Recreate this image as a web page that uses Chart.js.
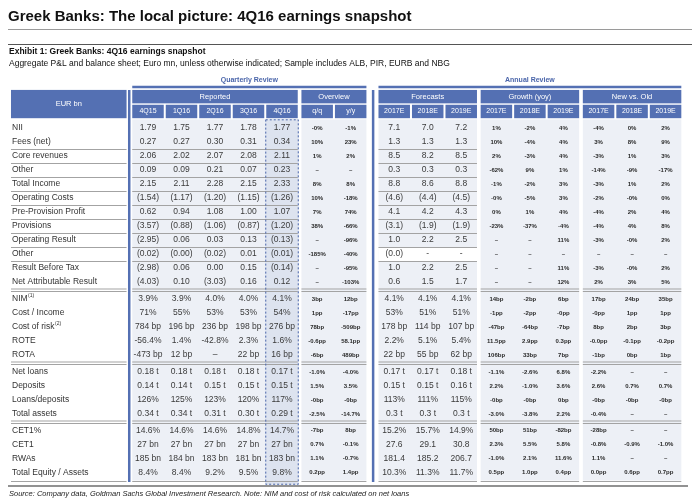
<!DOCTYPE html>
<html>
<head>
<meta charset="utf-8">
<script src="https://cdn.jsdelivr.net/npm/chart.js@4.4.1/dist/chart.umd.min.js"></script>
<style>
  html, body { margin: 0; padding: 0; background: #fff; }
  canvas { display: block; }
</style>
</head>
<body>
<canvas id="snapshot" width="700" height="501"></canvas>
<script>
// rows of the table
const rowLabels = ['NII', 'Fees (net)', 'Core revenues', 'Other', 'Total Income', 'Operating Costs',
    'Pre-Provision Profit', 'Provisions', 'Operating Result', 'Other', 'Result Before Tax',
    'Net Attributable Result', 'NIM', 'Cost / Income', 'Cost of risk', 'ROTE', 'ROTA',
    'Net loans', 'Deposits', 'Loans/deposits', 'Total assets', 'CET1%', 'CET1', 'RWAs',
    'Total Equity / Assets'];
const rowNotes = ['', '', '', '', '', '', '', '', '', '', '', '', '(1)', '', '(2)', '', '', '', '', '', '', '', '', '', ''];
const rowGroups = [0, 0, 0, 0, 0, 0, 0, 0, 0, 0, 0, 0, 1, 1, 1, 1, 1, 2, 2, 2, 2, 3, 3, 3, 3];
const boxedRows = [2, 4, 6, 8, 9];

// column headers
const quarterLabels = ['4Q15', '1Q16', '2Q16', '3Q16', '4Q16'];
const overviewLabels = ['q/q', 'y/y'];
const yearLabels = ['2017E', '2018E', '2019E'];

// reported quarters
const reported4Q15 = ['1.79', '0.27', '2.06', '0.09', '2.15', '(1.54)', '0.62', '(3.57)', '(2.95)', '(0.02)', '(2.98)', '(4.03)',
    '3.9%', '71%', '784 bp', '-56.4%', '-473 bp', '0.18 t', '0.14 t', '126%', '0.34 t', '14.6%', '27 bn', '185 bn', '8.4%'];
const reported1Q16 = ['1.75', '0.27', '2.02', '0.09', '2.11', '(1.17)', '0.94', '(0.88)', '0.06', '(0.00)', '0.06', '0.10',
    '3.9%', '55%', '196 bp', '1.4%', '12 bp', '0.18 t', '0.14 t', '125%', '0.34 t', '14.6%', '27 bn', '184 bn', '8.4%'];
const reported2Q16 = ['1.77', '0.30', '2.07', '0.21', '2.28', '(1.20)', '1.08', '(1.06)', '0.03', '(0.02)', '0.00', '(3.03)',
    '4.0%', '53%', '236 bp', '-42.8%', '\u2013', '0.18 t', '0.15 t', '123%', '0.31 t', '14.6%', '27 bn', '183 bn', '9.2%'];
const reported3Q16 = ['1.78', '0.31', '2.08', '0.07', '2.15', '(1.15)', '1.00', '(0.87)', '0.13', '0.01', '0.15', '0.16',
    '4.0%', '53%', '198 bp', '2.3%', '22 bp', '0.18 t', '0.15 t', '120%', '0.30 t', '14.8%', '27 bn', '181 bn', '9.5%'];
const reported4Q16 = ['1.77', '0.34', '2.11', '0.23', '2.33', '(1.26)', '1.07', '(1.20)', '(0.13)', '(0.01)', '(0.14)', '0.12',
    '4.1%', '54%', '276 bp', '1.6%', '16 bp', '0.17 t', '0.15 t', '117%', '0.29 t', '14.7%', '27 bn', '183 bn', '9.8%'];

// overview
const overviewQoQ = ['-0%', '10%', '1%', '\u2013', '8%', '10%', '7%', '38%', '\u2013', '-185%', '\u2013', '\u2013',
    '3bp', '1pp', '78bp', '-0.6pp', '-6bp', '-1.0%', '1.5%', '-0bp', '-2.5%', '-7bp', '0.7%', '1.1%', '0.2pp'];
const overviewYoY = ['-1%', '23%', '2%', '\u2013', '8%', '-18%', '74%', '-66%', '-96%', '-40%', '-95%', '-103%',
    '12bp', '-17pp', '-509bp', '58.1pp', '489bp', '-4.0%', '3.5%', '-0bp', '-14.7%', '8bp', '-0.1%', '-0.7%', '1.4pp'];

// forecasts
const forecast2017 = ['7.1', '1.3', '8.5', '0.3', '8.8', '(4.6)', '4.1', '(3.1)', '1.0', '(0.0)', '1.0', '0.6',
    '4.1%', '53%', '178 bp', '2.2%', '22 bp', '0.17 t', '0.15 t', '113%', '0.3 t', '15.2%', '27.6', '181.4', '10.3%'];
const forecast2018 = ['7.0', '1.3', '8.2', '0.3', '8.6', '(4.4)', '4.2', '(1.9)', '2.2', '-', '2.2', '1.5',
    '4.1%', '51%', '114 bp', '5.1%', '55 bp', '0.17 t', '0.15 t', '111%', '0.3 t', '15.7%', '29.1', '185.2', '11.3%'];
const forecast2019 = ['7.2', '1.3', '8.5', '0.3', '8.8', '(4.5)', '4.3', '(1.9)', '2.5', '-', '2.5', '1.7',
    '4.1%', '51%', '107 bp', '5.4%', '62 bp', '0.18 t', '0.16 t', '115%', '0.3 t', '14.9%', '30.8', '206.7', '11.7%'];

// growth (yoy)
const growth2017 = ['1%', '10%', '2%', '-62%', '-1%', '-0%', '0%', '-23%', '\u2013', '\u2013', '\u2013', '\u2013',
    '14bp', '-1pp', '-47bp', '11.5pp', '106bp', '-1.1%', '2.2%', '-0bp', '-3.0%', '50bp', '2.3%', '-1.0%', '0.5pp'];
const growth2018 = ['-2%', '-4%', '-3%', '9%', '-2%', '-5%', '1%', '-37%', '\u2013', '\u2013', '\u2013', '\u2013',
    '-2bp', '-2pp', '-64bp', '2.9pp', '33bp', '-2.6%', '-1.0%', '-0bp', '-3.8%', '51bp', '5.5%', '2.1%', '1.0pp'];
const growth2019 = ['4%', '4%', '4%', '1%', '3%', '3%', '4%', '-4%', '11%', '\u2013', '11%', '12%',
    '6bp', '-0pp', '-7bp', '0.3pp', '7bp', '6.8%', '3.6%', '0bp', '2.2%', '-82bp', '5.8%', '11.6%', '0.4pp'];

// new vs. old
const newOld2017 = ['-4%', '3%', '-3%', '-14%', '-3%', '-2%', '-4%', '-4%', '-3%', '\u2013', '-3%', '2%',
    '17bp', '-0pp', '8bp', '-0.0pp', '-1bp', '-2.2%', '2.6%', '-0bp', '-0.4%', '-28bp', '-0.8%', '1.1%', '0.0pp'];
const newOld2018 = ['0%', '8%', '1%', '-9%', '1%', '-0%', '2%', '4%', '-0%', '\u2013', '-0%', '3%',
    '24bp', '1pp', '2bp', '-0.1pp', '0bp', '\u2013', '0.7%', '-0bp', '\u2013', '\u2013', '-0.9%', '\u2013', '0.6pp'];
const newOld2019 = ['2%', '9%', '3%', '-17%', '2%', '0%', '4%', '8%', '2%', '\u2013', '2%', '5%',
    '35bp', '1pp', '3bp', '-0.2pp', '1bp', '\u2013', '0.7%', '-0bp', '\u2013', '\u2013', '-1.0%', '\u2013', '0.7pp'];

const blocks = [
    { title: 'Reported', heads: quarterLabels, values: [reported4Q15, reported1Q16, reported2Q16, reported3Q16, reported4Q16], small: false, lines: true },
    { title: 'Overview', heads: overviewLabels, values: [overviewQoQ, overviewYoY], small: true, lines: false },
    { title: 'Forecasts', heads: yearLabels, values: [forecast2017, forecast2018, forecast2019], small: false, lines: true },
    { title: 'Growth (yoy)', heads: yearLabels, values: [growth2017, growth2018, growth2019], small: true, lines: false },
    { title: 'New vs. Old', heads: yearLabels, values: [newOld2017, newOld2018, newOld2019], small: true, lines: false },
];
const reviews = [
    { title: 'Quarterly Review', from: 0, to: 1 },
    { title: 'Annual Review', from: 2, to: 4 },
];

// layout (in column / row units)
const blockShift = [0, 0.05, 0.35, 0.4, 0.45];
const groupGap = 0.21;
const labelLeft = -4.09, labelRight = -0.64, labelTextX = -4.06;
const halfCell = 0.47;

const BLUE = '#5470b3';
const FILL = '#edf0f6';
const GRID = '#a3a3a3';
const FONT = '"Liberation Sans", Arial, sans-serif';

const rowPos = rowLabels.map((_, i) => i + rowGroups[i] * groupGap);
const lastPos = rowPos[rowPos.length - 1];
const tableTop = -0.62;
const tableBottom = lastPos + 0.55;

let col = 0;
blocks.forEach((b, bi) => {
    b.x = b.heads.map((h, i) => col + i + blockShift[bi]);
    col += b.heads.length;
});

let datasets = [{
    label: 'rows',
    data: rowPos.map(y => ({ x: labelTextX, y: y })),
    texts: rowLabels,
    notes: rowNotes,
    kind: 'label',
}];
blocks.forEach(b => {
    b.values.forEach((vals, i) => {
        datasets.push({
            label: b.title + ' ' + b.heads[i],
            data: rowPos.map(y => ({ x: b.x[i], y: y })),
            texts: vals,
            kind: b.small ? 'small' : 'value',
        });
    });
});
datasets.forEach(ds => { ds.pointRadius = 0; ds.showLine = false; });

function hline(ctx, x0, x1, y, color, width) {
    ctx.beginPath();
    ctx.strokeStyle = color;
    ctx.lineWidth = width;
    ctx.moveTo(x0, y);
    ctx.lineTo(x1, y);
    ctx.stroke();
}

const tablePlugin = {
    id: 'tablePlugin',
    beforeDatasetsDraw(chart) {
        const ctx = chart.ctx;
        const X = v => chart.scales.x.getPixelForValue(v);
        const Y = v => chart.scales.y.getPixelForValue(v);
        ctx.save();

        // page texts
        ctx.fillStyle = '#111';
        ctx.textBaseline = 'alphabetic';
        ctx.textAlign = 'left';
        ctx.font = 'bold 15px ' + FONT;
        ctx.fillText('Greek Banks: The local picture: 4Q16 earnings snapshot', 8, 21);
        hline(ctx, 8, 692, 29.5, '#9a9a9a', 1);
        hline(ctx, 8, 692, 44.5, '#555', 1);
        ctx.font = 'bold 8.5px ' + FONT;
        ctx.fillText('Exhibit 1: Greek Banks: 4Q16 earnings snapshot', 9, 54);
        ctx.font = '8.5px ' + FONT;
        ctx.fillText('Aggregate P&L and balance sheet; Euro mn, unless otherwise indicated; Sample includes ALB, PIR, EURB and NBG', 9, 66);

        // label column header
        const yHeadTop = Y(-2.72), yHeadBot = Y(-0.7);
        ctx.fillStyle = BLUE;
        ctx.fillRect(X(labelLeft), yHeadTop, X(labelRight) - X(labelLeft), yHeadBot - yHeadTop);
        ctx.fillStyle = '#fff';
        ctx.textAlign = 'center';
        ctx.textBaseline = 'middle';
        ctx.font = '7.5px ' + FONT;
        ctx.fillText('EUR bn', (X(labelLeft) + X(labelRight)) / 2, (yHeadTop + yHeadBot) / 2);

        // blocks
        blocks.forEach((b, bi) => {
            const x0 = X(b.x[0] - halfCell), x1 = X(b.x[b.x.length - 1] + halfCell);
            ctx.fillStyle = FILL;
            ctx.fillRect(x0, Y(tableTop), x1 - x0, Y(tableBottom) - Y(tableTop));
            ctx.fillStyle = BLUE;
            ctx.fillRect(x0, yHeadTop, x1 - x0, Y(-1.76) - yHeadTop);
            b.x.forEach(cx => {
                ctx.fillRect(X(cx - halfCell), Y(-1.66), X(cx + halfCell) - X(cx - halfCell), yHeadBot - Y(-1.66));
            });
            ctx.fillStyle = '#fff';
            ctx.font = '7.5px ' + FONT;
            ctx.fillText(b.title, (x0 + x1) / 2, Y(-2.24));
            ctx.font = '7px ' + FONT;
            b.x.forEach((cx, i) => ctx.fillText(b.heads[i], X(cx), Y(-1.18)));
            if (bi === 2) {
                // the second "Other" row is left white in the forecasts
                ctx.fillStyle = '#fff';
                ctx.fillRect(x0, Y(rowPos[9] - 0.5), x1 - x0, Y(rowPos[9] + 0.5) - Y(rowPos[9] - 0.5));
            }
        });

        // reviews
        reviews.forEach(r => {
            const x0 = X(blocks[r.from].x[0] - halfCell);
            const last = blocks[r.to].x;
            const x1 = X(last[last.length - 1] + halfCell);
            hline(ctx, x0, x1, Y(-2.93), BLUE, 2.5);
            ctx.fillStyle = '#4a65aa';
            ctx.font = 'bold 7px ' + FONT;
            ctx.fillText(r.title, (x0 + x1) / 2, Y(-3.4));
        });

        // highlighted current quarter
        const cur = blocks[0].x[4];
        const hx0 = X(cur - 0.5), hx1 = X(cur + 0.5), hy0 = Y(tableTop), hy1 = Y(tableBottom + 0.3);
        ctx.fillStyle = '#dde3ef';
        ctx.fillRect(hx0, hy0, hx1 - hx0, hy1 - hy0);

        // horizontal rules per block
        let spans = [[X(labelLeft), X(labelRight), true]];
        blocks.forEach(b => spans.push([X(b.x[0] - halfCell), X(b.x[b.x.length - 1] + halfCell), b.lines]));
        let edges = new Set();
        boxedRows.forEach(r => { edges.add(rowPos[r] - 0.5); edges.add(rowPos[r] + 0.5); });
        spans.forEach(([x0, x1, lines]) => {
            if (lines) {
                edges.forEach(e => hline(ctx, x0, x1, Math.round(Y(e)) + 0.5, GRID, 1));
            }
            for (let i = 1; i < rowPos.length; i++) {
                if (rowGroups[i] !== rowGroups[i - 1]) {
                    const mid = Math.round(Y((rowPos[i] + rowPos[i - 1]) / 2));
                    hline(ctx, x0, x1, mid - 1, GRID, 1);
                    hline(ctx, x0, x1, mid + 1.5, GRID, 1);
                }
            }
            hline(ctx, x0, x1, Math.round(Y(tableBottom)) + 0.5, GRID, 1);
        });

        // dashed border of the current quarter
        ctx.setLineDash([2, 2]);
        ctx.strokeStyle = '#4a65aa';
        ctx.lineWidth = 1;
        ctx.strokeRect(hx0 + 0.5, hy0 + 0.5, hx1 - hx0 - 1, hy1 - hy0 - 1);
        ctx.setLineDash([]);

        // blue dividers
        [-0.56, 6.72].forEach(v => {
            ctx.beginPath();
            ctx.strokeStyle = BLUE;
            ctx.lineWidth = 2.5;
            ctx.moveTo(X(v), yHeadTop);
            ctx.lineTo(X(v), Y(tableBottom + 0.1));
            ctx.stroke();
        });

        // source
        hline(ctx, 8, 688, Math.round(Y(tableBottom + 0.3)) + 1, '#6e6e6e', 1.5);
        ctx.fillStyle = '#222';
        ctx.textAlign = 'left';
        ctx.textBaseline = 'alphabetic';
        ctx.font = 'italic 7.5px ' + FONT;
        ctx.fillText('Source: Company data, Goldman Sachs Global Investment Research. Note: NIM and cost of risk calculated on net loans', 9, 496);
        ctx.restore();
    },
    afterDatasetsDraw(chart) {
        const ctx = chart.ctx;
        ctx.save();
        ctx.textBaseline = 'middle';
        chart.data.datasets.forEach((ds, di) => {
            const meta = chart.getDatasetMeta(di);
            meta.data.forEach((pt, i) => {
                const text = ds.texts[i];
                if (ds.kind === 'label') {
                    ctx.textAlign = 'left';
                    ctx.fillStyle = '#333';
                    ctx.font = '8.5px ' + FONT;
                    ctx.fillText(text, pt.x, pt.y);
                    if (ds.notes[i]) {
                        const w = ctx.measureText(text).width;
                        ctx.font = '5px ' + FONT;
                        ctx.fillText(ds.notes[i], pt.x + w + 0.5, pt.y - 3);
                    }
                } else if (ds.kind === 'small') {
                    ctx.textAlign = 'center';
                    ctx.fillStyle = '#2a2a2a';
                    ctx.font = 'bold 6px ' + FONT;
                    ctx.fillText(text, pt.x, pt.y);
                } else {
                    ctx.textAlign = 'center';
                    ctx.fillStyle = '#3a3a3a';
                    ctx.font = '8.5px ' + FONT;
                    ctx.fillText(text, pt.x, pt.y);
                }
            });
        });
        ctx.restore();
    }
};

const xMin = -148 / 33.5, yMin = -128 / 14;
new Chart(document.getElementById('snapshot').getContext('2d'), {
    type: 'scatter',
    data: { datasets: datasets },
    options: {
        responsive: false,
        animation: false,
        events: [],
        layout: { padding: 0 },
        scales: {
            x: { type: 'linear', min: xMin, max: xMin + 700 / 33.5, display: false },
            y: { type: 'linear', min: yMin, max: yMin + 501 / 14, reverse: true, display: false },
        },
        plugins: {
            legend: { display: false },
            tooltip: { enabled: false },
        },
    },
    plugins: [tablePlugin],
});
</script>
</body>
</html>
